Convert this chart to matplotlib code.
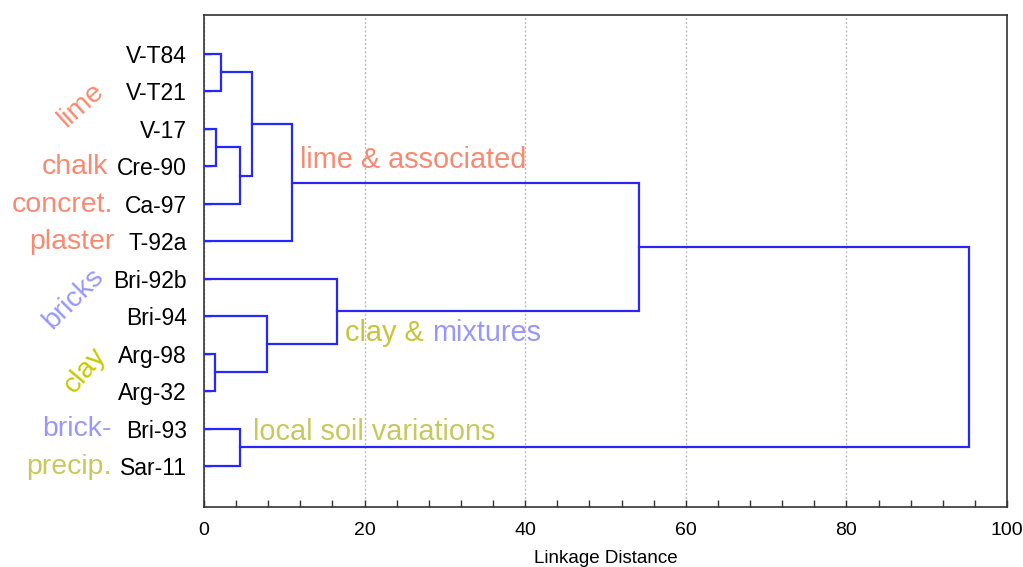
import matplotlib
matplotlib.use("Agg")
import matplotlib.pyplot as plt
from matplotlib.ticker import MultipleLocator

# ---- data ----
leaves = ["V-T84", "V-T21", "V-17", "Cre-90", "Ca-97", "T-92a",
          "Bri-92b", "Bri-94", "Arg-98", "Arg-32", "Bri-93", "Sar-11"]
# merges: (child_a, child_b, distance); children are leaf names or merge ids "m#"
merge_a = ["V-T84", "V-17", "m1", "m0", "m3", "Arg-98", "Bri-94", "Bri-92b", "m4", "Bri-93", "m8"]
merge_b = ["V-T21", "Cre-90", "Ca-97", "m2", "T-92a", "Arg-32", "m5", "m6", "m7", "Sar-11", "m9"]
merge_d = [2.1, 1.5, 4.5, 5.95, 11.0, 1.35, 7.85, 16.55, 54.2, 4.5, 95.3]
xticks = [0, 20, 40, 60, 80, 100]

plt.rcParams['font.family'] = ['Liberation Sans', 'DejaVu Sans']

W, H = 1023, 567
fig = plt.figure(figsize=(W / 100, H / 100), dpi=100)
ax = fig.add_axes([204 / W, 1 - 507 / H, (1007 - 204) / W, (507 - 15) / H])

pos = {name: (0.0, float(i)) for i, name in enumerate(leaves)}
line_color = "#2626ff"
for k, (a, b, d) in enumerate(zip(merge_a, merge_b, merge_d)):
    xa, ya = pos[a]
    xb, yb = pos[b]
    ax.plot([xa, d, d, xb], [ya, ya, yb, yb], color=line_color, lw=1.6,
            solid_joinstyle="miter", zorder=3)
    pos["m%d" % k] = (d, (ya + yb) / 2)

ax.set_xlim(0, 100)
ax.set_ylim(len(leaves) - 1 + 1.09, -1.03)
ax.set_yticks(range(len(leaves)))
ax.set_yticklabels(leaves, fontsize=16.5)
ax.set_xticks(xticks)
ax.set_xticklabels([str(t) for t in xticks], fontsize=14)
ax.xaxis.set_minor_locator(MultipleLocator(4))
ax.tick_params(axis="both", which="both", direction="in", length=5, width=1, color="#333333")
ax.tick_params(axis="x", which="major", pad=11)
ax.tick_params(axis="y", which="major", pad=12.5)
for s in ax.spines.values():
    s.set_color("#333333")
    s.set_linewidth(1.2)
ax.grid(axis="x", which="major", linestyle=(0, (1.5, 1.5)), color="#bbbbbb", lw=1)
ax.set_axisbelow(True)
ax.set_xlabel("Linkage Distance", fontsize=13.5, labelpad=8)

salmon = "#f98a72"
lav = "#9898fa"
olive = "#c9c85e"
yel = "#c8c800"

# annotations inside the plot
ax.text(12.0, 2.84, "lime & associated", color=salmon, fontsize=20.8, va="center", ha="left")
t1 = ax.text(17.6, 7.45, "clay & ", color="#c8c43c", fontsize=20.8, va="center", ha="left")
ax.annotate("mixtures", xycoords=t1, xy=(1, 0), va="bottom", ha="left",
            color=lav, fontsize=20.8)
ax.text(6.15, 10.09, "local soil variations", color=olive, fontsize=20.8, va="center", ha="left")

# left-side category labels (figure pixels)
def ftext(x, y, s, color, **kw):
    fig.text(x / W, 1 - y / H, s, color=color, fontsize=20.5, **kw)

ftext(81, 105, "lime", salmon, rotation=42, ha="center", va="center")
ftext(108, 167, "chalk", salmon, ha="right", va="center")
ftext(113, 205, "concret.", salmon, ha="right", va="center")
ftext(114, 242, "plaster", salmon, ha="right", va="center")
ftext(73, 299, "bricks", lav, rotation=45, ha="center", va="center")
ftext(85, 370, "clay", yel, rotation=50, ha="center", va="center")
ftext(112, 429, "brick-", lav, ha="right", va="center")
ftext(112, 467, "precip.", olive, ha="right", va="center")

fig.savefig("out.png", dpi=100)
